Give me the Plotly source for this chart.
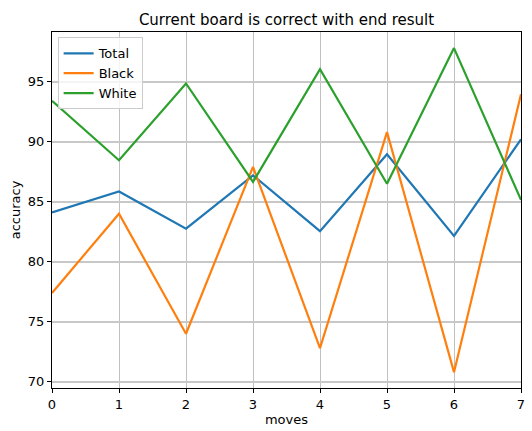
import plotly.graph_objects as go

moves = [0, 1, 2, 3, 4, 5, 6, 7]
total = [84.1, 85.85, 82.75, 87.2, 82.55, 88.95, 82.15, 90.2]
black = [77.4, 84.0, 74.0, 87.9, 72.8, 90.8, 70.8, 93.95]
white = [93.4, 88.45, 94.85, 86.65, 96.05, 86.5, 97.8, 85.15]

series = [("Total", total, "#1f77b4"), ("Black", black, "#ff7f0e"), ("White", white, "#2ca02c")]

fig = go.Figure()
for name, vals, color in series:
    fig.add_trace(go.Scatter(x=moves, y=vals, mode="lines", name=name,
                             line=dict(color=color, width=2.2)))

font = "DejaVu Sans"
fig.update_layout(
    width=532, height=431,
    margin=dict(l=52, r=11, t=32, b=43, autoexpand=False),
    paper_bgcolor="white", plot_bgcolor="white",
    font=dict(family=font, size=13, color="black"),
    title=dict(text="Current board is correct with end result", x=0.5386, xanchor="center",
               y=0.955, yanchor="middle", font=dict(size=15, family=font)),
    showlegend=True,
    legend=dict(x=0.012, y=0.985, xanchor="left", yanchor="top",
                bgcolor="rgba(255,255,255,0.8)", bordercolor="#cccccc", borderwidth=1,
                font=dict(size=13, family=font), itemwidth=30, tracegroupgap=0),
)
fig.update_xaxes(range=[0, 7], tickvals=moves, showgrid=True, gridcolor="#c0c0c0", gridwidth=1,
                 showline=True, linecolor="black", linewidth=1, mirror=True, automargin=False,
                 ticks="outside", ticklen=4, tickcolor="black", zeroline=False,
                 title=dict(text="moves", font=dict(size=13, family=font), standoff=4))
fig.update_yaxes(range=[69.48, 99.14], tickvals=[70, 75, 80, 85, 90, 95], showgrid=True,
                 gridcolor="#c8c8c8", gridwidth=1.5, automargin=False,
                 showline=True, linecolor="black", linewidth=1, mirror=True,
                 ticks="outside", ticklen=4, tickcolor="black", zeroline=False,
                 title=dict(text="accuracy", font=dict(size=13, family=font), standoff=4))

fig.write_html("out.html", config={"displayModeBar": False},
               post_script="document.body.style.margin='0';document.body.style.overflow='hidden';")
